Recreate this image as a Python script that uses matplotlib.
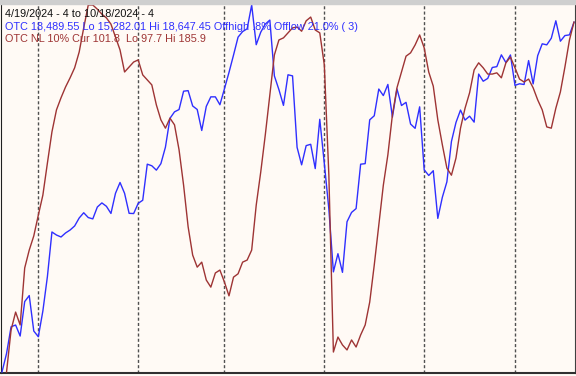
import numpy as np
import matplotlib
matplotlib.use("Agg")
import matplotlib.pyplot as plt
from matplotlib.patches import Rectangle

# OTC (Nasdaq composite) daily closes, 4/19/2024 .. 10/18/2024
otc_close = [
    15282.01, 15451.3, 15696.6, 15712.8, 15611.8, 15927.9, 15983.1, 15657.8,
    15605.5, 15841.0, 16156.3, 16566.0, 16538.0, 16520.0, 16557.0, 16584.0,
    16621.0, 16694.0, 16742.4, 16698.3, 16686.0, 16794.9, 16832.6, 16801.5,
    16736.0, 16920.8, 17019.9, 16920.6, 16737.1, 16735.0, 16828.7, 16857.1,
    17187.9, 17173.1, 17133.1, 17192.5, 17343.6, 17608.4, 17667.6, 17688.9,
    17857.0, 17862.2, 17721.6, 17689.4, 17496.8, 17717.7, 17805.2, 17805.2,
    17732.6, 17879.3, 18028.8, 18188.3, 18352.8, 18403.7, 18429.3, 18647.45,
    18283.4, 18398.5, 18472.6, 18509.3, 17996.9, 17871.2, 17726.9, 18007.6,
    17997.4, 17342.4, 17181.7, 17357.9, 17370.2, 17147.4, 17599.4, 17194.2,
    16776.2, 16200.1, 16366.9, 16195.8, 16660.0, 16745.3, 16780.6, 17187.6,
    17192.6, 17594.5, 17631.7, 17876.8, 17816.9, 17919.0, 17619.4, 17877.8,
    17725.8, 17754.8, 17556.0, 17516.4, 17713.6, 17136.3, 17084.3, 17127.7,
    16690.8, 16884.6, 17025.9, 17395.5, 17569.7, 17684.0, 17592.1, 17628.1,
    17573.3, 18014.0, 17948.3, 17974.3, 18074.5, 18082.2, 18190.3, 18119.6,
    18189.2, 17910.4, 17925.1, 17918.5, 18137.9, 17923.9, 18182.9, 18291.6,
    18282.1, 18342.9, 18502.7, 18315.6, 18367.1, 18373.6, 18489.55,
]

# OTC new lows 10% (drawn on an inverted scale), starts on the 2nd session
otc_nl = [
    185.9, 175.8, 171.5, 174.6, 160.9, 156.6, 153.2, 148.2, 143.4, 135.7,
    128.2, 122.9, 120.0, 117.4, 115.2, 112.8, 109.0, 103.2, 97.7, 97.7,
    98.7, 99.9, 100.8, 102.3, 105.4, 108.5, 113.8, 112.6, 111.4, 110.9,
    114.5, 115.7, 116.9, 121.7, 125.3, 127.3, 124.9, 126.5, 132.5, 141.0,
    151.0, 157.8, 160.7, 159.5, 163.8, 165.5, 162.1, 161.4, 164.3, 167.6,
    163.1, 162.3, 159.5, 159.0, 156.6, 145.8, 137.8, 128.9, 119.3, 109.7,
    106.1, 105.6, 104.4, 103.2, 103.0, 104.0, 101.5, 100.6, 103.7, 104.4,
    112.1, 138.6, 181.1, 177.5, 179.4, 180.6, 178.2, 179.9, 177.0, 174.6,
    169.1, 160.2, 150.6, 141.0, 133.7, 124.1, 117.6, 113.8, 110.0, 109.2,
    107.3, 104.9, 108.0, 113.8, 117.2, 125.3, 131.3, 136.9, 138.6, 134.5,
    127.3, 122.5, 118.8, 113.3, 111.6, 112.8, 114.3, 114.3, 114.0, 115.2,
    111.6, 110.2, 112.8, 115.5, 116.2, 115.5, 117.6, 120.5, 122.9, 127.0,
    127.3, 122.5, 118.6, 112.6, 106.1, 101.8,
]

# first session of May, Jun, Jul, Aug, Sep, Oct
month_start = [8, 30, 49, 71, 93, 113]

bg = "#fffaf5"
blue = "#2f2fff"
red = "#9e3434"

W, H = 576, 376
fig = plt.figure(figsize=(W / 100, H / 100), dpi=100, facecolor=bg)
ax = fig.add_axes([1 / W, 3 / H, 574 / W, 369 / H])
ax.set_facecolor(bg)

days = np.arange(len(otc_close))
step = 572 / (len(otc_close) - 1)
ax.set_xlim(-1 / step, days[-1] + 1 / step)

for m in month_start:
    ax.axvline(m, color="#505050", lw=1.0, ls=(0, (2.2, 1.6)), zorder=1)

ax.plot(days, otc_close, color=blue, lw=1.0, zorder=3)
lo, hi = min(otc_close), max(otc_close)
pad = (hi - lo) / 367
ax.set_ylim(lo - pad, hi + pad)

ax2 = ax.twinx()
ax2.plot(days[1:], otc_nl, color=red, lw=1.0)
nlo, nhi = min(otc_nl), max(otc_nl)
padr = (nhi - nlo) / 367
ax2.set_ylim(nhi + padr, nlo - padr)

for a in (ax, ax2):
    a.set_xticks([])
    a.set_yticks([])
    for s in a.spines.values():
        s.set_visible(False)
ax.spines["left"].set_visible(True)
ax.spines["left"].set_color("#202020")
ax.spines["bottom"].set_visible(True)
ax.spines["bottom"].set_color("#303030")
ax.spines["bottom"].set_linewidth(1.5)
ax.spines["right"].set_visible(True)
ax.spines["right"].set_color("#404040")

fig.patches.append(Rectangle((0, 1 - 4 / H), 1, 4 / H, transform=fig.transFigure,
                             color="#cfcfcf", zorder=0))

font = "Liberation Sans"
fig.text(5 / W, 1 - 16.7 / H, "4/19/2024 - 4 to 10/18/2024 - 4", color="#101010",
         fontsize=7.8, family=font, va="baseline")
fig.text(5 / W, 1 - 29.5 / H,
         f"OTC {otc_close[-1]:,.2f} Lo {lo:,.2f} Hi {hi:,.2f} Offhigh .8% Offlow 21.0% ( 3)",
         color=blue, fontsize=7.8, family=font, va="baseline")
fig.text(5 / W, 1 - 42.3 / H,
         f"OTC NL 10% Cur {otc_nl[-1]:.1f}  Lo {nlo:.1f} Hi {nhi:.1f}",
         color=red, fontsize=7.8, family=font, va="baseline")

fig.savefig("out.png", dpi=100, facecolor=bg)
